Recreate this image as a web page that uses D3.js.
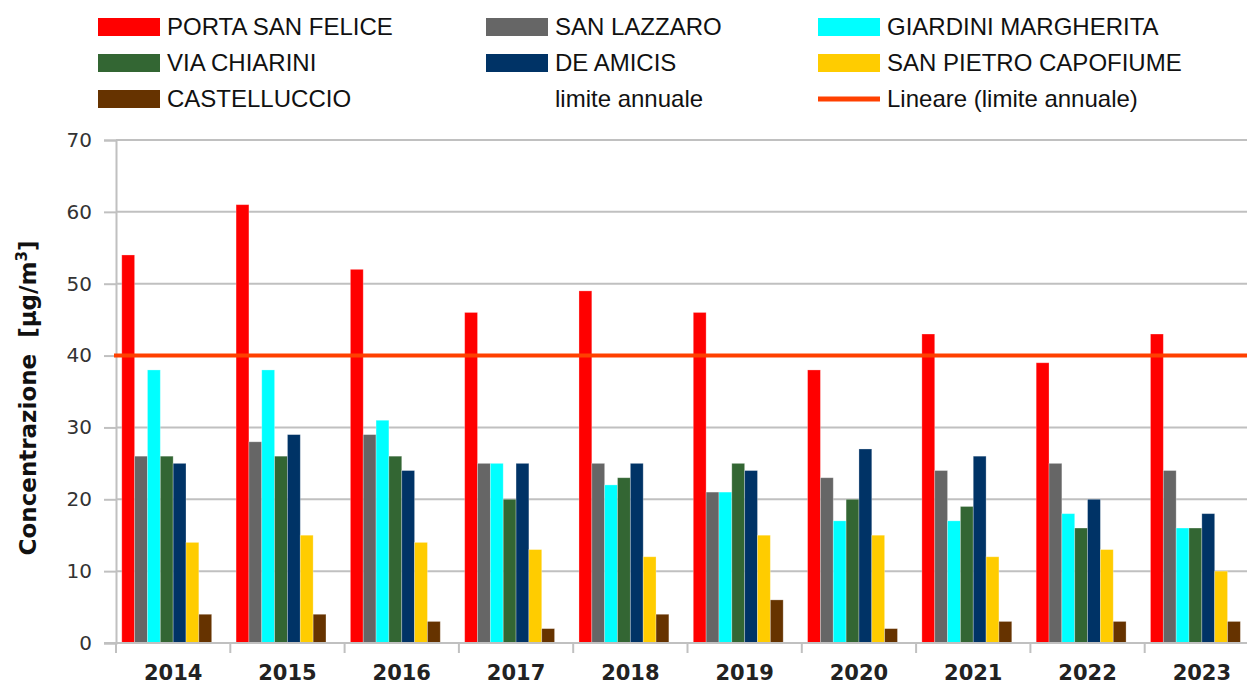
<!DOCTYPE html>
<html>
<head>
<meta charset="utf-8">
<script src="https://cdn.jsdelivr.net/npm/d3@7"></script>
<style>
  body { margin: 0; background: #fff; }
  svg { display: block; }
</style>
</head>
<body>
<svg width="1247" height="684"></svg>
<script>
// data
var years = ["2014","2015","2016","2017","2018","2019","2020","2021","2022","2023"]
var stations = ["PORTA SAN FELICE","SAN LAZZARO","GIARDINI MARGHERITA","VIA CHIARINI",
                "DE AMICIS","SAN PIETRO CAPOFIUME","CASTELLUCCIO","limite annuale"]
var colors = ["#ff0000","#666666","#00ffff","#336633","#003366","#ffcc00","#663300","none"]

var portaSanFelice     = [54,61,52,46,49,46,38,43,39,43]
var sanLazzaro         = [26,28,29,25,25,21,23,24,25,24]
var giardiniMargherita = [38,38,31,25,22,21,17,17,18,16]
var viaChiarini        = [26,26,26,20,23,25,20,19,16,16]
var deAmicis           = [25,29,24,25,25,24,27,26,20,18]
var sanPietro          = [14,15,14,13,12,15,15,12,13,10]
var castelluccio       = [4,4,3,2,4,6,2,3,3,3]
var limite             = [40,40,40,40,40,40,40,40,40,40]

var series = [portaSanFelice, sanLazzaro, giardiniMargherita, viaChiarini,
              deAmicis, sanPietro, castelluccio, limite]
var yTicks = [0,10,20,30,40,50,60,70]

var svg = d3.select("svg")
var plotL = 116, plotR = 1259, plotT = 140, plotB = 643

var x0 = d3.scaleBand().domain(years).range([plotL, plotR])
var x1 = d3.scaleBand().domain(d3.range(series.length))
  .range([0, x0.bandwidth()]).paddingOuter(0.45)
var y = d3.scaleLinear().domain([0, 70]).range([plotB, plotT])

// grid
svg.append("g")
  .selectAll("line")
  .data(yTicks.slice(1))
  .enter().append("line")
  .attr("x1", plotL).attr("x2", 1247)
  .attr("y1", function (d) { return y(d) }).attr("y2", function (d) { return y(d) })
  .attr("stroke", "#c0c0c0").attr("stroke-width", 2)

// bars
var rows = []
years.forEach(function (yr, i) {
  series.forEach(function (s, j) { rows.push({ year: yr, s: j, v: s[i] }) })
})

svg.append("g")
  .selectAll("rect")
  .data(rows.filter(function (d) { return colors[d.s] != "none" }))
  .enter().append("rect")
  .attr("x", function (d) { return x0(d.year) + x1(d.s) })
  .attr("width", x1.bandwidth())
  .attr("y", function (d) { return y(d.v) })
  .attr("height", function (d) { return y(0) - y(d.v) })
  .attr("fill", function (d) { return colors[d.s] })
  .attr("stroke", "rgba(255,255,255,0.35)").attr("stroke-width", 0.8)

// y axis
var yAxis = svg.append("g")
  .attr("transform", "translate(" + plotL + ",0)")
  .call(d3.axisLeft(y).tickValues(yTicks).tickSize(12).tickPadding(12))
yAxis.select(".domain").attr("stroke", "#c0c0c0").attr("stroke-width", 2)
yAxis.selectAll(".tick line").attr("stroke", "#c0c0c0").attr("stroke-width", 2)
yAxis.selectAll("text").attr("font-family", "DejaVu Sans").attr("font-size", 20).attr("fill", "#333")

// x axis
svg.append("line")
  .attr("x1", plotL - 12).attr("x2", 1247)
  .attr("y1", plotB).attr("y2", plotB)
  .attr("stroke", "#c0c0c0").attr("stroke-width", 2)

svg.append("g")
  .selectAll("line")
  .data(years)
  .enter().append("line")
  .attr("x1", function (d) { return x0(d) }).attr("x2", function (d) { return x0(d) })
  .attr("y1", plotB).attr("y2", plotB + 10)
  .attr("stroke", "#c0c0c0").attr("stroke-width", 2)

var xAxis = svg.append("g")
  .attr("transform", "translate(0," + plotB + ")")
  .call(d3.axisBottom(x0).tickSize(0).tickPadding(22))
xAxis.select(".domain").remove()
xAxis.selectAll("text")
  .attr("font-family", "DejaVu Sans").attr("font-weight", "bold")
  .attr("font-size", 21).attr("fill", "#222")

// limit line (trend of "limite annuale")
svg.append("line")
  .attr("x1", plotL - 2).attr("x2", 1247)
  .attr("y1", y(limite[0])).attr("y2", y(limite[0]))
  .attr("stroke", "#ff4000").attr("stroke-width", 4)

// y title
var yt = svg.append("text")
  .attr("transform", "translate(36,398) rotate(-90)")
  .attr("text-anchor", "middle")
  .style("white-space", "pre")
  .attr("font-family", "DejaVu Sans").attr("font-weight", "bold")
  .attr("font-size", 23).attr("fill", "#111")
yt.append("tspan").text("Concentrazione  [µg/m")
yt.append("tspan").attr("dy", -9).attr("font-size", 15).text("3")
yt.append("tspan").attr("dy", 9).text("]")

// legend
var legendItems = stations.map(function (n, i) { return { name: n, color: colors[i], type: "box" } })
legendItems.push({ name: "Lineare (limite annuale)", color: "#ff4000", type: "line" })
var colX = [98, 486, 818]
var rowY = [27, 63, 99]

var lg = svg.append("g")
  .selectAll("g")
  .data(legendItems)
  .enter().append("g")
  .attr("transform", function (d, i) {
    return "translate(" + colX[i % 3] + "," + rowY[Math.floor(i / 3)] + ")"
  })

lg.filter(function (d) { return d.type == "box" && d.color != "none" })
  .append("rect")
  .attr("x", 0).attr("y", -9).attr("width", 62).attr("height", 18)
  .attr("fill", function (d) { return d.color })

lg.filter(function (d) { return d.type == "line" })
  .append("rect")
  .attr("x", 0).attr("y", -2.5).attr("width", 62).attr("height", 5)
  .attr("fill", function (d) { return d.color })

lg.append("text")
  .attr("x", 69).attr("dy", "0.35em")
  .attr("font-family", "Liberation Sans, sans-serif")
  .attr("font-size", 24).attr("fill", "#111")
  .text(function (d) { return d.name })
</script>
</body>
</html>
